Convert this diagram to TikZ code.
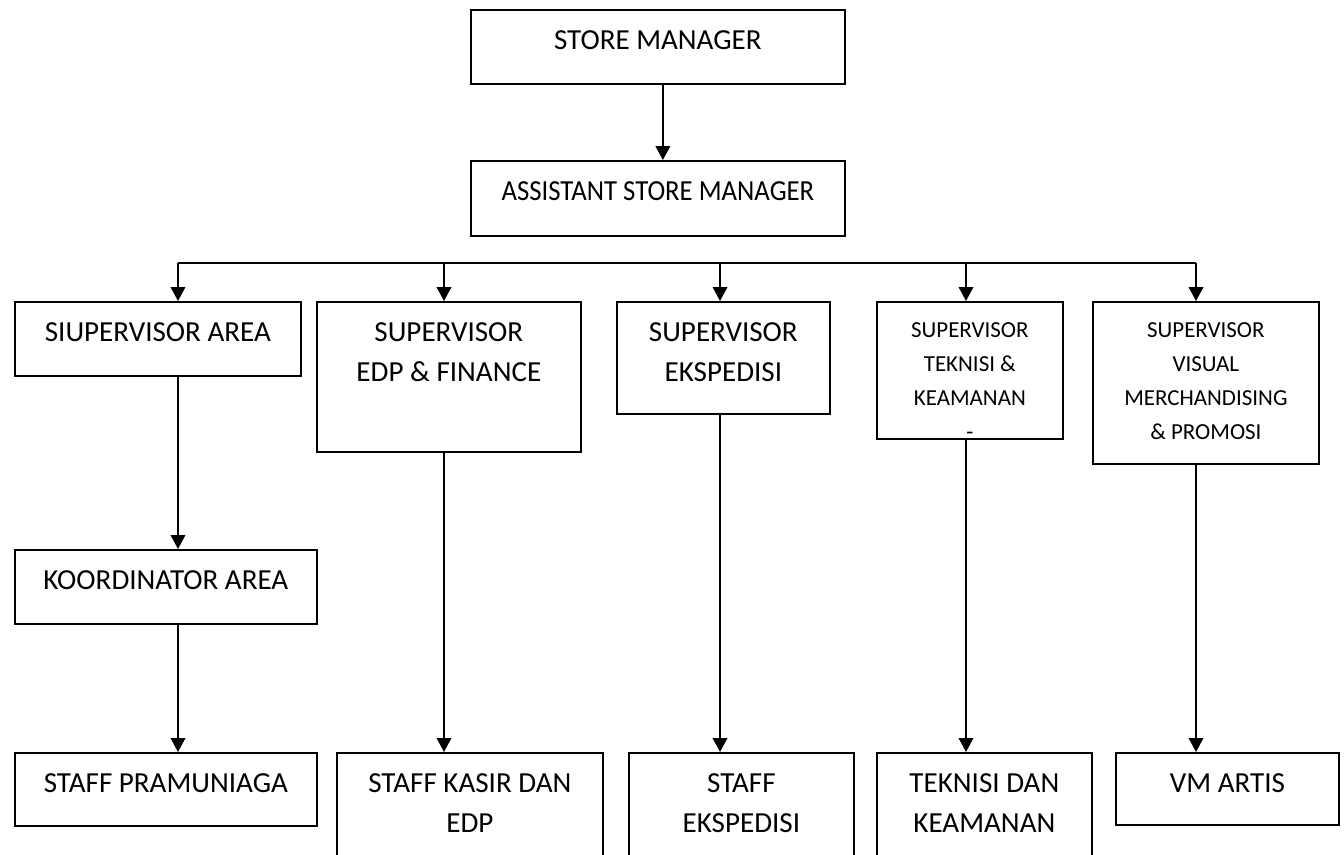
\documentclass[tikz,border=0pt]{standalone}
\usepackage{fontspec}
\setmainfont{Carlito}
\usetikzlibrary{arrows.meta}

\newcommand{\bigtext}{\fontsize{21.8}{30}\selectfont}
\newcommand{\smalltext}{\fontsize{17.2}{25.3}\selectfont}

\tikzset{
  box/.style={draw, line width=1.3pt, anchor=north west, inner sep=0pt,
    align=center, font=\bigtext},
  smallbox/.style={box, font=\smalltext},
  % width, height, lines (last baseline sits at the given depth)
  boxsize/.style n args={3}{minimum width=#1*0.75pt,
    text height=30pt+(#3-1)*30pt, text depth=#2*0.75pt-30pt-(#3-1)*30pt},
  sboxsize/.style n args={3}{minimum width=#1*0.75pt,
    text height=27pt+(#3-1)*25.3pt, text depth=#2*0.75pt-27pt-(#3-1)*25.3pt},
}

\begin{document}
\begin{tikzpicture}[x=0.75pt,y=-0.75pt,>={Triangle[length=10.5pt,width=11pt]},line width=1.1pt]
  \useasboundingbox (0,0) rectangle (1344,854);

  % top
  \node[box, boxsize={374}{74}{1}] (sm)  at (470,9)   {STORE MANAGER};
  \node[box, boxsize={374}{75}{1}, font=\bigtext\addfontfeature{FakeStretch=0.92}] (asm) at (470,160) {ASSISTANT STORE MANAGER};

  % supervisors
  \node[box, boxsize={286}{74}{1}]  (sa)  at (14,301)  {SIUPERVISOR AREA};
  \node[box, boxsize={264}{150}{2}] (sef) at (316,301) {SUPERVISOR\\EDP \& FINANCE};
  \node[box, boxsize={213}{112}{2}] (se)  at (616,301) {SUPERVISOR\\EKSPEDISI};
  \node[smallbox, sboxsize={186}{135}{4}] (stk) at (876,301)  {SUPERVISOR\\TEKNISI \&\\KEAMANAN\\-};
  \node[smallbox, sboxsize={226}{162}{4}] (svm) at (1092,301) {SUPERVISOR\\VISUAL\\MERCHANDISING\\\& PROMOSI};

  \node[box, boxsize={302}{74}{1}] (ka) at (14,549) {KOORDINATOR AREA};

  % staff
  \node[box, boxsize={302}{73}{1}]  (sp)  at (14,752)   {STAFF PRAMUNIAGA};
  \node[box, boxsize={266}{140}{2}] (skd) at (336,752)  {STAFF KASIR DAN\\EDP};
  \node[box, boxsize={225}{140}{2}] (ses) at (628,752)  {STAFF\\EKSPEDISI};
  \node[box, boxsize={215}{140}{2}] (tkd) at (876,752)  {TEKNISI DAN\\KEAMANAN};
  \node[box, boxsize={223}{72}{1}]  (vm)  at (1115,752) {VM ARTIS};

  \coordinate (c1) at (178,263);
  \coordinate (c2) at (444,263);
  \coordinate (c3) at (720,263);
  \coordinate (c4) at (966,263);
  \coordinate (c5) at (1196,263);

  \draw[->] ([xshift=3.75pt]sm.south) -- ([xshift=3.75pt]asm.north);
  \draw (c1) -- (c5);
  \foreach \c/\n in {c1/sa, c2/sef, c3/se, c4/stk, c5/svm}
    \draw[->] (\c) -- (\c |- \n.north);
  \draw[->] (c1 |- sa.south) -- (c1 |- ka.north);
  \draw[->] (c1 |- ka.south) -- (c1 |- sp.north);
  \foreach \c/\a/\b in {c2/sef/skd, c3/se/ses, c4/stk/tkd, c5/svm/vm}
    \draw[->] (\c |- \a.south) -- (\c |- \b.north);

\end{tikzpicture}
\end{document}
